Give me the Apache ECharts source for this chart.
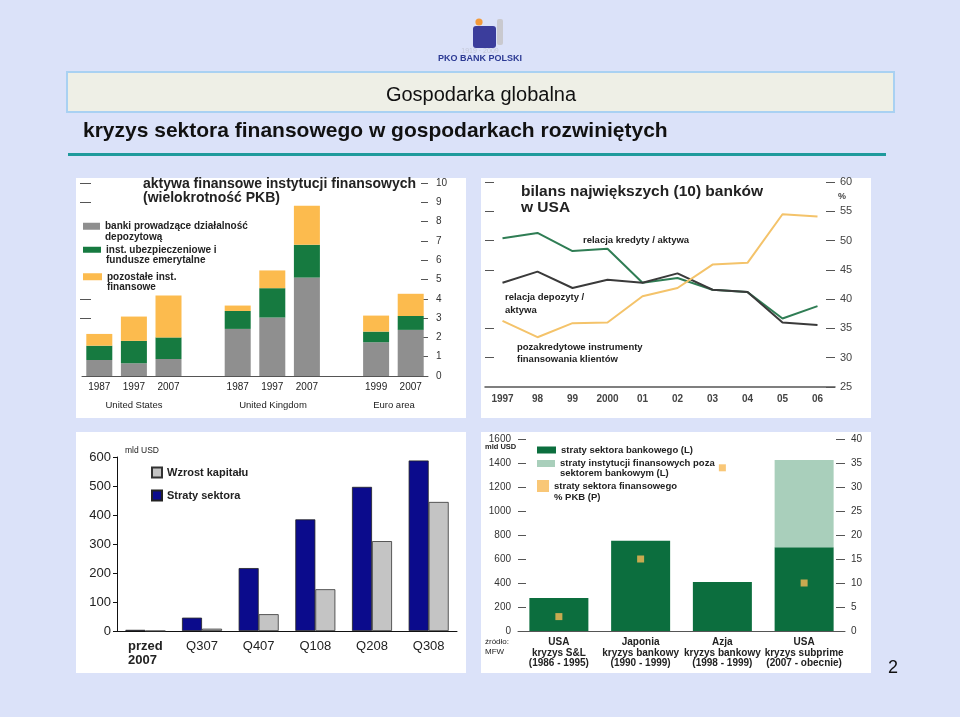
<!DOCTYPE html>
<html><head><meta charset="utf-8">
<script src="https://cdn.jsdelivr.net/npm/echarts@6/dist/echarts.min.js"></script>
<style>html,body{margin:0;padding:0;background:#dbe2f9;}#main{width:960px;height:717px;}</style>
</head><body><div id="main"></div>
<script>
// ---------- data ----------
// Chart 1: financial assets of financial institutions (multiple of GDP)
const c1Cats = ['1987','1997','2007','','1987','1997','2007','','1999','2007'];
const c1Groups = ['United States','United Kingdom','Euro area'];
const c1Banks = [0.83,0.66,0.88,null,2.44,3.03,5.1,null,1.75,2.39];
const c1Insur = [0.74,1.16,1.12,null,0.93,1.52,1.7,null,0.55,0.72];
const c1Other = [0.61,1.26,2.17,null,0.28,0.92,2.02,null,0.83,1.15];
const c1Names = ['banki prowadzące działalność\ndepozytową','inst. ubezpieczeniowe i\nfundusze emerytalne','pozostałe inst.\nfinansowe'];
// Chart 2: balance sheet of 10 largest US banks (%)
const c2Years = ['1997','98','99','2000','01','02','03','04','05','06'];
const c2Credit = [50.4,51.3,48.2,48.6,42.8,43.6,41.6,41.2,36.7,38.8];
const c2Deposit = [42.8,44.7,41.9,43.3,42.8,44.4,41.6,41.2,36.0,35.6];
const c2OffBal = [36.3,33.5,35.9,36.0,40.5,41.9,45.9,46.2,54.5,54.1];
// Chart 3: losses vs capital raised (bn USD)
const c3Cats = ['przed\n2007','Q307','Q407','Q108','Q208','Q308'];
const c3Losses = [4,46,217,385,497,588];
const c3Capital = [0,8,58,144,310,445];
// Chart 4: crisis losses
const c4Cats = ['USA\nkryzys S&L\n(1986 - 1995)','Japonia\nkryzys bankowy\n(1990 - 1999)','Azja\nkryzys bankowy\n(1998 - 1999)','USA\nkryzys subprime\n(2007 - obecnie)'];
const c4Bank = [274,752,408,697];
const c4NonBank = [0,0,0,727];
const c4Pct = [3,15,34,10];
const c4Names = ['straty sektora bankowego (L)','straty instytucji finansowych poza\nsektorem bankowym (L)','straty sektora finansowego\n% PKB (P)'];

// ---------- chart ----------
const FF = '"Liberation Sans", Arial, sans-serif';
const chart = echarts.init(document.getElementById('main'), null, {renderer:'canvas'});

function txt(x, y, text, font, opts) {
  return Object.assign({type:'text', x:x, y:y, z:10,
    style:Object.assign({text:text, font:font + ' ' + FF, fill:'#222', textAlign:'left', textVerticalAlign:'middle'}, opts||{})});
}
function panel(x,y,w,h){ return {type:'rect', z:-5, shape:{x:x,y:y,width:w,height:h}, style:{fill:'#ffffff'}}; }

// legend item; two-line items get a leading empty line so that the first line sits level with the icon
function legItem(name, left, top, iw, ih, lead, fs, lh) {
  return {padding:0, selectedMode:false, orient:'vertical', left:left, top:top, itemWidth:iw, itemHeight:ih,
    icon:'rect', data:[name],
    formatter:function(n){ return lead ? '\n' + n : n; },
    textStyle:{fontFamily:FF, fontSize:fs, fontWeight:'bold', color:'#222', lineHeight:lh}};
}

const option = {
  animation:false,
  backgroundColor:'#dbe2f9',
  textStyle:{fontFamily:FF},
  graphic:[
    // logo
    {type:'rect', z:1, shape:{x:497,y:19,width:6,height:26,r:2}, style:{fill:'#c9c9cf'}},
    {type:'circle', z:2, shape:{cx:479,cy:22,r:3.6}, style:{fill:'#f39a3a'}},
    {type:'rect', z:2, shape:{x:473,y:26,width:23,height:22,r:3}, style:{fill:'#3b3d9c'}},
    txt(480,51,'1919 · 2009','7px',{fill:'#c4c8d8', textAlign:'center'}),
    txt(480,59,'PKO BANK POLSKI','bold 9px',{fill:'#2c3a94', textAlign:'center'}),
    // title box
    {type:'rect', z:0, shape:{x:67,y:72,width:827,height:40}, style:{fill:'#eeefe6', stroke:'#a9d1f2', lineWidth:2}},
    txt(481,95,'Gospodarka globalna','20px',{fill:'#111', textAlign:'center'}),
    txt(83,131,'kryzys sektora finansowego w gospodarkach rozwiniętych','bold 21px',{fill:'#111'}),
    {type:'rect', z:0, shape:{x:68,y:153,width:818,height:3}, style:{fill:'#1f9a9c'}},
    // panels
    panel(76,178,390,240), panel(481,178,390,240), panel(76,432,390,241), panel(481,432,390,241),
    // chart 1 texts
    txt(143,184,'aktywa finansowe instytucji finansowych','bold 14px'),
    txt(143,198,'(wielokrotność PKB)','bold 14px'),
    txt(134,405,c1Groups[0],'9.5px',{textAlign:'center'}),
    txt(273,405,c1Groups[1],'9.5px',{textAlign:'center'}),
    txt(394,405,c1Groups[2],'9.5px',{textAlign:'center'}),
    // chart 2 texts
    txt(521,192,'bilans największych (10) banków','bold 15.5px'),
    txt(521,208,'w USA','bold 15.5px'),
    txt(838,197,'%','bold 9px',{fill:'#444'}),
    txt(583,240,'relacja kredyty / aktywa','bold 9.5px'),
    txt(505,297,'relacja depozyty /','bold 9.5px'),
    txt(505,310,'aktywa','bold 9.5px'),
    txt(517,347,'pozakredytowe instrumenty','bold 9.5px'),
    txt(517,359,'finansowania klientów','bold 9.5px'),
    // chart 3 texts
    txt(125,451,'mld USD','8.5px'),
    // chart 4 texts
    txt(485,447,'mld USD','bold 7.5px'),
    txt(485,642,'źródło:','8px'),
    txt(485,652,'MFW','8px'),
    // page number
    txt(893,668,'2','18px',{fill:'#111', textAlign:'center'})
  ],
  legend:[
    legItem(c1Names[0], 83, 210.5, 17, 7, true, 10, 10.5),
    legItem(c1Names[1], 83, 234, 18, 6, true, 10, 10.5),
    legItem(c1Names[2], 83, 261, 19, 7, true, 10, 10.5),
    {padding:0, selectedMode:false, orient:'vertical', left:151, top:466.5, itemWidth:10, itemHeight:10, itemGap:11,
      icon:'rect', data:['Wzrost kapitału','Straty sektora'],
      textStyle:{fontFamily:FF, fontSize:11, fontWeight:'bold', color:'#222', lineHeight:11}},
    legItem(c4Names[0], 537, 445, 19, 7, false, 9.5, 10),
    legItem(c4Names[1], 537, 448.5, 18, 7, true, 9.5, 10),
    legItem(c4Names[2], 537, 469.5, 12, 12, true, 9.5, 11)
  ],
  grid:[
    {left:82, top:183, width:346, height:193},
    {left:485, top:182, width:350, height:205},
    {left:117, top:457, width:340, height:174},
    {left:518, top:439, width:327, height:192}
  ],
  xAxis:[
    {type:'category', gridIndex:0, data:c1Cats,
      axisLine:{lineStyle:{color:'#555'}}, axisTick:{length:5, lineStyle:{color:'#555'}},
      axisLabel:{interval:0, fontSize:10, color:'#222', margin:6}},
    {type:'category', gridIndex:1, data:c2Years, boundaryGap:true,
      axisLine:{lineStyle:{color:'#555', width:1.5}}, axisTick:{inside:true, length:5, lineStyle:{color:'#555', width:1.5}},
      axisLabel:{interval:0, fontSize:10, fontWeight:'bold', color:'#444', margin:7}},
    {type:'category', gridIndex:2, data:c3Cats,
      axisLine:{lineStyle:{color:'#111'}}, axisTick:{length:4, lineStyle:{color:'#111'}},
      axisLabel:{interval:0, fontSize:13, color:'#222', margin:8, lineHeight:14,
        formatter:function(v,i){ return i===0 ? '{b|'+v+'}' : v; },
        rich:{b:{fontSize:13, fontWeight:'bold', color:'#222', lineHeight:14, align:'left'}}}},
    {type:'category', gridIndex:3, data:c4Cats,
      axisLine:{lineStyle:{color:'#555'}}, axisTick:{length:5, lineStyle:{color:'#555'}},
      axisLabel:{interval:0, fontSize:10, fontWeight:'bold', color:'#222', margin:6, lineHeight:10.5}}
  ],
  yAxis:[
    {type:'value', gridIndex:0, position:'right', min:0, max:10, interval:1,
      axisLine:{show:false}, axisTick:{show:true, inside:true, length:7, lineStyle:{color:'#555'}},
      axisLabel:{fontSize:10, color:'#333', margin:8}, splitLine:{show:false}},
    {type:'value', gridIndex:0, position:'left', min:0, max:10, interval:1, offset:2,
      axisLine:{show:false}, axisLabel:{show:false}, splitLine:{show:false},
      axisTick:{show:true, inside:true, length:11, customValues:[3,4,9,10], lineStyle:{color:'#555'}}},
    {type:'value', gridIndex:1, position:'right', min:25, max:60, interval:5,
      axisLine:{show:false}, axisTick:{show:true, inside:true, length:9, lineStyle:{color:'#555'}},
      axisLabel:{fontSize:11, color:'#444', margin:5}, splitLine:{show:false}},
    {type:'value', gridIndex:1, position:'left', min:25, max:60, interval:5,
      axisLine:{show:false}, axisLabel:{show:false}, splitLine:{show:false},
      axisTick:{show:true, inside:true, length:9, customValues:[30,35,45,50,55,60], lineStyle:{color:'#555'}}},
    {type:'value', gridIndex:2, position:'left', min:0, max:600, interval:100,
      axisLine:{show:true, lineStyle:{color:'#111'}}, axisTick:{show:true, length:4, lineStyle:{color:'#111'}},
      axisLabel:{fontSize:13, color:'#222', margin:6}, splitLine:{show:false}},
    {type:'value', gridIndex:3, position:'left', min:0, max:1600, interval:200,
      axisLine:{show:false}, axisTick:{show:true, inside:true, length:8, lineStyle:{color:'#555'}},
      axisLabel:{fontSize:10, color:'#333', margin:7, formatter:function(v){return String(v);}}, splitLine:{show:false}},
    {type:'value', gridIndex:3, position:'right', min:0, max:40, interval:5,
      axisLine:{show:false}, axisTick:{show:true, inside:true, length:9, lineStyle:{color:'#555'}},
      axisLabel:{fontSize:10, color:'#333', margin:6}, splitLine:{show:false}}
  ],
  series:[
    {name:c1Names[0], type:'bar', stack:'c1', xAxisIndex:0, yAxisIndex:0, barWidth:26, data:c1Banks, itemStyle:{color:'#8f8f8f'}},
    {name:c1Names[1], type:'bar', stack:'c1', xAxisIndex:0, yAxisIndex:0, barWidth:26, data:c1Insur, itemStyle:{color:'#167a40'}},
    {name:c1Names[2], type:'bar', stack:'c1', xAxisIndex:0, yAxisIndex:0, barWidth:26, data:c1Other, itemStyle:{color:'#fcbb4e'}},

    {name:'relacja kredyty / aktywa', type:'line', xAxisIndex:1, yAxisIndex:2, data:c2Credit, showSymbol:false, lineStyle:{color:'#2f7d54', width:2}, itemStyle:{color:'#2f7d54'}},
    {name:'relacja depozyty / aktywa', type:'line', xAxisIndex:1, yAxisIndex:2, data:c2Deposit, showSymbol:false, lineStyle:{color:'#3a3a3a', width:2}, itemStyle:{color:'#3a3a3a'}},
    {name:'pozakredytowe instrumenty finansowania klientów', type:'line', xAxisIndex:1, yAxisIndex:2, data:c2OffBal, showSymbol:false, lineStyle:{color:'#f4c36a', width:2}, itemStyle:{color:'#f4c36a'}},

    {name:'Straty sektora', type:'bar', xAxisIndex:2, yAxisIndex:4, barWidth:20, barGap:'0%', data:c3Losses, itemStyle:{color:'#0b0b8c', borderColor:'#222', borderWidth:0.8}},
    {name:'Wzrost kapitału', type:'bar', xAxisIndex:2, yAxisIndex:4, barWidth:20, barGap:'0%', data:c3Capital, itemStyle:{color:'#c4c4c4', borderColor:'#333', borderWidth:0.8}},

    {name:c4Names[0], type:'bar', stack:'c4', xAxisIndex:3, yAxisIndex:5, barWidth:59, data:c4Bank, itemStyle:{color:'#0c6e3e'}},
    {name:c4Names[1], type:'bar', stack:'c4', xAxisIndex:3, yAxisIndex:5, barWidth:59, data:c4NonBank, itemStyle:{color:'#a9cfbb'}},
    {name:c4Names[2], type:'scatter', xAxisIndex:3, yAxisIndex:6, symbol:'rect', symbolSize:7, data:c4Pct, itemStyle:{color:'#f7b955'}, z:5}
  ]
};
chart.setOption(option);
</script></body></html>
